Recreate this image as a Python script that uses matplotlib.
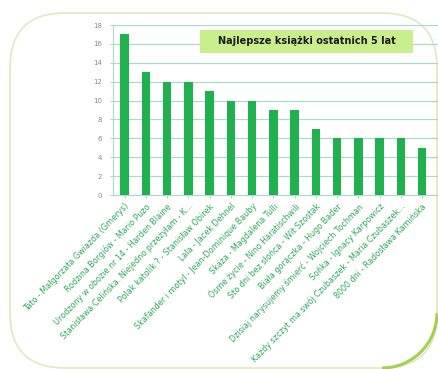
import matplotlib
matplotlib.use("Agg")
import matplotlib.pyplot as plt
from matplotlib.patches import FancyBboxPatch, Arc, Rectangle

categories = [
    "Tato - Małgorzata Gwiazda (Gmerys)",
    "Rodzina Borgiów - Mario Puzo",
    "Urodzony w obozie nr 14 - Harden Blaine",
    "Stanisława Celińska. Niejedno przeżyłam - K...",
    "Polak katolik ? - Stanisław Obirek",
    "Lala - Jacek Dehnel",
    "Skafander i motyl - Jean-Dominique Bauby",
    "Skaza - Magdalena Tulli",
    "Ósme życie - Nino Haratischwili",
    "Sto dni bez słońca - Wit Szostak",
    "Biała gorączka - Hugo Bader",
    "Dzisiaj narysujemy śmierć - Wojciech Tochman",
    "Sońka - Ignacy Karpowicz",
    "Każdy szczyt ma swój Czubaszek - Maria Czubaszek...",
    "8000 dni - Radosława Kamińska",
]
values = [17, 13, 12, 12, 11, 10, 10, 9, 9, 7, 6, 6, 6, 6, 5]
yticks = [0, 2, 4, 6, 8, 10, 12, 14, 16, 18]
title = "Najlepsze książki ostatnich 5 lat"

fig = plt.figure(figsize=(4.39, 3.69), dpi=100)
fig.patch.set_facecolor("white")

# rounded frame (in inches)
frame = FancyBboxPatch((0.10, 0.01), 4.27, 3.55, boxstyle="round,pad=0,rounding_size=0.55",
                       transform=fig.dpi_scale_trans, facecolor="white",
                       edgecolor="#e4e8bf", linewidth=1.2, zorder=-10)
fig.add_artist(frame)
arc = Arc((3.82, 0.56), 1.1, 1.1, theta1=270, theta2=360, transform=fig.dpi_scale_trans,
          edgecolor="#a3cf55", linewidth=2.2, zorder=-9)
fig.add_artist(arc)

ax = fig.add_axes([113 / 439, 1 - 195 / 369, (438 - 113) / 439, (195 - 25) / 369])
ax.set_zorder(1)
ax.set_facecolor("none")
x = list(range(len(values)))
ax.bar(x, values, width=0.4, color="#20b04e", zorder=3)
ax.set_xlim(-0.55, len(values) - 0.25)
ax.set_ylim(0, 18)
ax.set_yticks(yticks)
ax.set_yticklabels([str(v) for v in yticks], fontsize=5, color="#8a8a8a")
ax.yaxis.grid(True, color="#a9dccb", linewidth=0.9, zorder=0)
ax.set_xticks(x)
ax.set_xticklabels(categories, rotation=46, ha="right", rotation_mode="anchor",
                   fontsize=5.8, color="#2da85a")
ax.tick_params(axis="x", length=2, color="#a9dccb", pad=3)
ax.tick_params(axis="y", length=2, color="#a9dccb", pad=6)
for s in ["top", "right"]:
    ax.spines[s].set_visible(False)
for s in ["left", "bottom"]:
    ax.spines[s].set_color("#a9dccb")
    ax.spines[s].set_linewidth(0.8)

ax.add_patch(Rectangle((0.268, 0.835), 0.655, 0.135, transform=ax.transAxes,
                       facecolor="#c9ef8c", edgecolor="none", zorder=5))
ax.text(0.597, 0.903, title, transform=ax.transAxes, ha="center", va="center",
        fontsize=7, fontweight="bold", color="#1a1a1a", zorder=6)

fig.savefig("out.png", dpi=100)
